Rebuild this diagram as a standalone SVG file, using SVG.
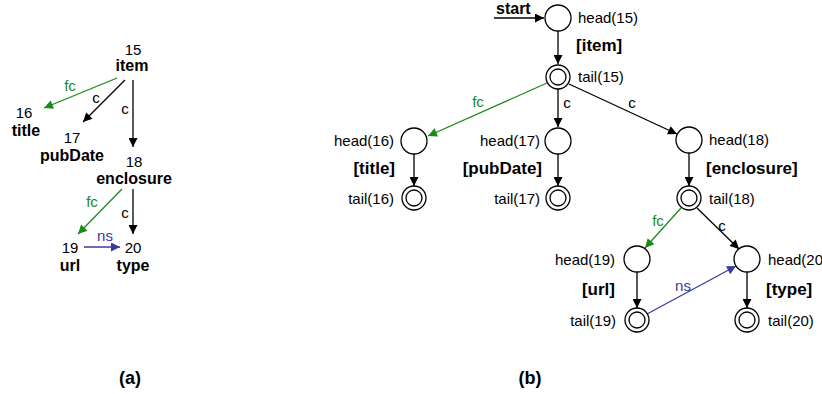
<svg xmlns="http://www.w3.org/2000/svg" width="822" height="394" viewBox="0 0 822 394">
<defs>
<marker id="ak" viewBox="0 0 10 10" refX="10" refY="5" markerWidth="11" markerHeight="9" markerUnits="userSpaceOnUse" orient="auto"><path d="M0,0 L10,5 L0,10 z" fill="#000"/></marker>
<marker id="ag" viewBox="0 0 10 10" refX="10" refY="5" markerWidth="11" markerHeight="9" markerUnits="userSpaceOnUse" orient="auto"><path d="M0,0 L10,5 L0,10 z" fill="#1a8a1a"/></marker>
<marker id="ab" viewBox="0 0 10 10" refX="10" refY="5" markerWidth="11" markerHeight="9" markerUnits="userSpaceOnUse" orient="auto"><path d="M0,0 L10,5 L0,10 z" fill="#3a3aa0"/></marker>
</defs>
<style>
text{font-family:"Liberation Sans",Arial,sans-serif;font-size:15px;fill:#000}
.b{font-weight:bold;font-size:17px}
.ba{font-weight:bold;font-size:16px}
.cap{font-weight:bold;font-size:18px}
.g{fill:#1a8a1a}
.bl{fill:#3a3aa0}
.k{stroke:#000;stroke-width:1.3;fill:none;marker-end:url(#ak)}
.gl{stroke:#1a8a1a;stroke-width:1.3;fill:none;marker-end:url(#ag)}
.bll{stroke:#3a3aa0;stroke-width:1.3;fill:none;marker-end:url(#ab)}
circle{fill:#fff;stroke:#000;stroke-width:1.3}
.m{text-anchor:middle}
.e{text-anchor:end}
</style>
<rect width="822" height="394" fill="#fff"/>

<!-- Part (a) -->
<g id="a-connectors">
<line class="gl" x1="117" y1="78" x2="44" y2="108"/>
<line class="k" x1="125" y1="80" x2="83" y2="122"/>
<line class="k" x1="133" y1="80" x2="133" y2="147"/>
<line class="gl" x1="122" y1="189" x2="78" y2="234"/>
<line class="k" x1="133" y1="189" x2="133" y2="234"/>
<line class="bll" x1="84" y1="247" x2="120" y2="247"/>
<text class="g" x="70" y="91" text-anchor="middle">fc</text>
<text x="96" y="103" text-anchor="middle">c</text>
<text x="125" y="114" text-anchor="middle">c</text>
<text class="g" x="92" y="207" text-anchor="middle">fc</text>
<text x="125" y="218" text-anchor="middle">c</text>
<text class="bl" x="105" y="241" text-anchor="middle">ns</text>
</g>
<g id="a15"><text class="m" x="133" y="55">15</text><text class="ba m" x="132" y="71">item</text></g>
<g id="a16"><text class="m" x="24" y="118">16</text><text class="ba m" x="26" y="136">title</text></g>
<g id="a17"><text class="m" x="72" y="143">17</text><text class="ba m" x="72" y="161">pubDate</text></g>
<g id="a18"><text class="m" x="134" y="167">18</text><text class="ba m" x="134" y="184">enclosure</text></g>
<g id="a19"><text class="m" x="70" y="253">19</text><text class="ba m" x="70" y="271">url</text></g>
<g id="a20"><text class="m" x="133" y="253">20</text><text class="ba m" x="133" y="271">type</text></g>
<text class="cap m" x="130" y="384">(a)</text>

<!-- Part (b) -->
<g id="b-connectors">
<line class="k" x1="494" y1="18" x2="544" y2="18"/>
<line class="k" x1="558" y1="31" x2="558" y2="64"/>
<line class="gl" x1="547" y1="83" x2="428" y2="136"/>
<line class="k" x1="558" y1="89" x2="558" y2="127"/>
<line class="k" x1="569" y1="84" x2="677" y2="134"/>
<line class="k" x1="414" y1="154" x2="414" y2="186"/>
<line class="k" x1="558" y1="154" x2="558" y2="186"/>
<line class="k" x1="689" y1="153" x2="689" y2="186"/>
<line class="gl" x1="681" y1="208" x2="645" y2="248"/>
<line class="k" x1="697" y1="208" x2="739" y2="249"/>
<line class="k" x1="637" y1="272" x2="637" y2="308"/>
<line class="k" x1="747" y1="272" x2="747" y2="308"/>
<line class="bll" x1="647" y1="314" x2="736" y2="266"/>
<text class="g" x="478" y="107" text-anchor="middle">fc</text>
<text x="567" y="108" text-anchor="middle">c</text>
<text x="632" y="108" text-anchor="middle">c</text>
<text class="g" x="658" y="226" text-anchor="middle">fc</text>
<text x="722" y="231" text-anchor="middle">c</text>
<text class="bl" x="683" y="291" text-anchor="middle">ns</text>
</g>
<text class="ba" x="496" y="14">start</text>
<g id="head15"><circle cx="558" cy="18" r="13"/><text x="578" y="23">head(15)</text><text class="b" x="576" y="51">[item]</text></g>
<g id="tail15"><circle cx="558" cy="77" r="12"/><circle cx="558" cy="77" r="8"/><text x="578" y="82">tail(15)</text></g>
<g id="head16"><circle cx="414" cy="141" r="13"/><text class="e" x="394" y="146">head(16)</text><text class="b e" x="395" y="174">[title]</text></g>
<g id="tail16"><circle cx="414" cy="198" r="12"/><circle cx="414" cy="198" r="8"/><text class="e" x="394" y="204">tail(16)</text></g>
<g id="head17"><circle cx="558" cy="141" r="13"/><text class="e" x="540" y="146">head(17)</text><text class="b e" x="542" y="174">[pubDate]</text></g>
<g id="tail17"><circle cx="558" cy="198" r="12"/><circle cx="558" cy="198" r="8"/><text class="e" x="540" y="204">tail(17)</text></g>
<g id="head18"><circle cx="689" cy="140" r="13"/><text x="709" y="145">head(18)</text><text class="b" x="706" y="174">[enclosure]</text></g>
<g id="tail18"><circle cx="689" cy="198" r="12"/><circle cx="689" cy="198" r="8"/><text x="709" y="204">tail(18)</text></g>
<g id="head19"><circle cx="637" cy="259" r="13"/><text class="e" x="615" y="265">head(19)</text><text class="b e" x="615" y="295">[url]</text></g>
<g id="tail19"><circle cx="637" cy="320" r="12"/><circle cx="637" cy="320" r="8"/><text class="e" x="616" y="326">tail(19)</text></g>
<g id="head20"><circle cx="747" cy="259" r="13"/><text x="768" y="265">head(20</text><text class="b" x="766" y="295">[type]</text></g>
<g id="tail20"><circle cx="747" cy="320" r="12"/><circle cx="747" cy="320" r="8"/><text x="768" y="326">tail(20)</text></g>
<text class="cap m" x="530" y="384">(b)</text>
</svg>
